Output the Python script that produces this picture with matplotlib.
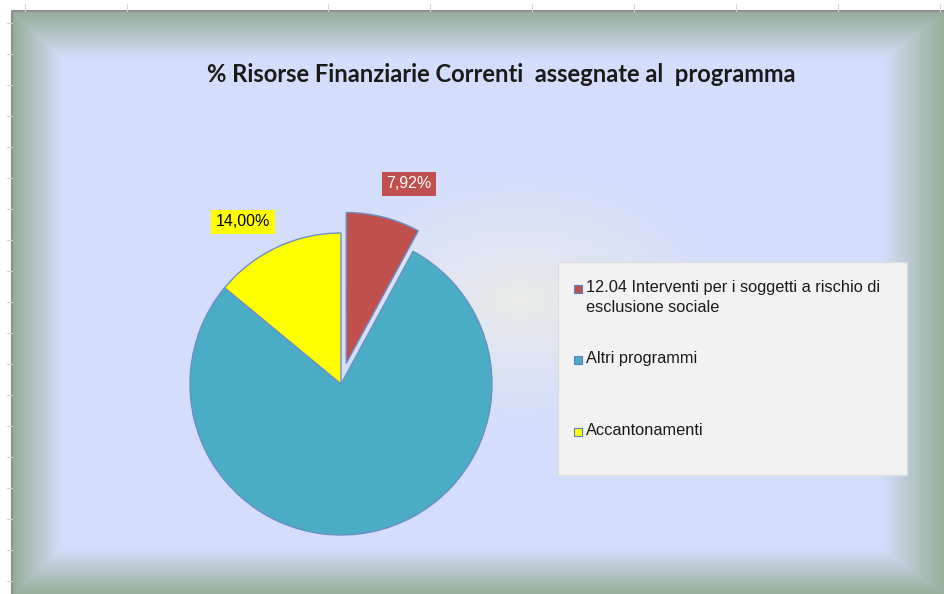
import numpy as np
import matplotlib
matplotlib.use("Agg")
import matplotlib.pyplot as plt
from matplotlib.patches import Rectangle

# data
categories = ["12.04 Interventi per i soggetti a rischio di\nesclusione sociale",
              "Altri programmi",
              "Accantonamenti"]
shares = [7.92, 78.08, 14.00]
slice_colors = ["#c0504d", "#4bacc6", "#ffff00"]
label_bg = ["#c0504d", "#000000", "#ffff00"]
label_fg = ["white", "white", "black"]
title = "% Risorse Finanziarie Correnti  assegnate al  programma"

W, H = 944, 594
fig = plt.figure(figsize=(W / 100, H / 100), dpi=100)

# background: sheet, bevelled frame, soft central glow
bg = fig.add_axes([0, 0, 1, 1])
bg.set_xlim(0, W)
bg.set_ylim(H, 0)
bg.axis("off")

img = np.ones((H, W, 3))
yy, xx = np.mgrid[0:H, 0:W] + 0.5
x0, y0, x1, y1 = 12, 11, 946, 596
wl, wt, wr, wb = 50, 48, 64, 48
t = np.minimum.reduce([(xx - x0) / wl, (yy - y0) / wt, (x1 - xx) / wr, (y1 - yy) / wb])
t = np.clip(t, 0, 1)[..., None]
outer = np.array([150, 172, 150]) / 255
inner = np.array([212, 222, 252]) / 255
frame = outer + (inner - outer) * t

cx, cy = 520, 300
g = np.hypot((xx - cx) / 240, (yy - cy) / 150)
g = np.clip(1 - g, 0, 1) ** 1.5 * 0.85
glow = np.array([238, 238, 228]) / 255
inside = (t[..., 0] >= 1)[..., None]
frame = np.where(inside, frame + (glow - frame) * g[..., None], frame)

mask = (xx >= x0) & (yy >= y0)
img[mask] = frame[mask]
bg.imshow(img, extent=(0, W, H, 0), interpolation="bilinear", zorder=0)
bg.plot([x0, x0, W], [H, y0, y0], color="#8f8f8f", lw=1.5, zorder=1)

# spreadsheet gridline stubs around the chart
for gx in [25, 127, 328, 430, 532, 634, 736, 838, 940]:
    bg.plot([gx, gx], [4, y0], color="#d8d8d8", lw=0.8, zorder=1)
for gy in range(23, H, 31):
    bg.plot([7, x0], [gy, gy], color="#d8d8d8", lw=0.8, zorder=1)

# title
ttl = bg.text(501, 74, title, ha="center", va="center", fontsize=13,
              fontweight="bold", family="Lato", color="#1a1a1a", zorder=3)
fig.canvas.draw()
tw = ttl.get_window_extent().width
ttl.set_fontsize(13 * 592 / tw)

# pie, red slice pulled out by 21 px
pa = fig.add_axes([0, 0, 1, 1])
pa.set_facecolor("none")
radius = 151
pa.pie(shares, colors=slice_colors, startangle=90, counterclock=False,
       explode=[0.14 * radius, 0, 0], radius=radius, center=(341, H - 384),
       wedgeprops=dict(edgecolor="#6b8fc4", linewidth=1.0))
pa.set_xlim(0, W)
pa.set_ylim(0, H)
pa.axis("off")

# value labels
label_pos = [(409, 184), (311, 466), (243, 222)]
for v, (lx, ly), bgc, fgc in zip(shares, label_pos, label_bg, label_fg):
    txt = f"{v:.2f}%".replace(".", ",")
    bg.text(lx, ly, txt, ha="center", va="center", fontsize=11.5,
            family="Liberation Sans", color=fgc, zorder=5,
            bbox=dict(boxstyle="square,pad=0.3", fc=bgc, ec="none"))

# legend box
bg.add_patch(Rectangle((558, 262), 349, 213, fc="#f2f2f2", ec="#dcdcdc",
                       lw=0.8, zorder=4))
leg_y = [289, 360, 432]
for name, col, ly in zip(categories, slice_colors, leg_y):
    bg.add_patch(Rectangle((574, ly - 4), 8, 8, fc=col, ec="#5b7fbf",
                           lw=0.8, zorder=5))
    bg.text(586, ly - 9, name, ha="left", va="top", fontsize=11.8,
            family="Liberation Sans", color="#1a1a1a", linespacing=1.4,
            zorder=5)

fig.savefig("out.png", dpi=100)
